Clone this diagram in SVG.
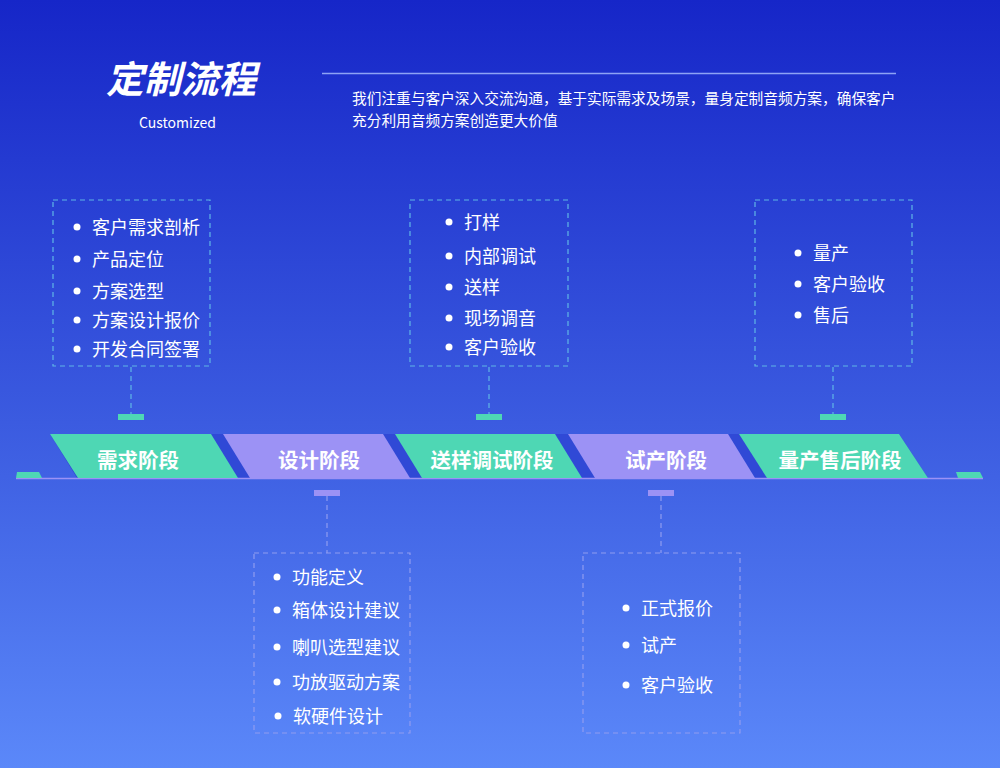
<svg xmlns="http://www.w3.org/2000/svg" width="1000" height="768" viewBox="0 0 1000 768">
<defs>
<linearGradient id="bg" x1="0" y1="0" x2="0" y2="1">
<stop offset="0" stop-color="#1626c8"/>
<stop offset="0.55" stop-color="#3b5be0"/>
<stop offset="1" stop-color="#5b88f9"/>
</linearGradient>
<style>
text{font-family:"Noto Sans CJK SC","Noto Sans",sans-serif;fill:#fff}
.item{font-size:18px}
.stage{font-size:20.5px;font-weight:bold;text-anchor:middle}
.boxT{fill:none;stroke:#5fb6e6;stroke-width:1.2;stroke-dasharray:5 4}
.boxB{fill:none;stroke:#8f9cf0;stroke-width:1.2;stroke-dasharray:5 4}
.lnT{stroke:#5fb6e6;stroke-width:1.2;stroke-dasharray:5 4}
.lnB{stroke:#8f9cf0;stroke-width:1.2;stroke-dasharray:5 4}
.teal{fill:#4ed7b4}
.lav{fill:#9c92f5}
.dot{fill:#fff}
</style>
</defs>
<rect width="1000" height="768" fill="url(#bg)"/>

<g id="header">
<text x="106" y="93" font-size="37.5" font-weight="bold" font-style="italic">定制流程</text>
<text x="139" y="128" font-size="14" font-family="Noto Sans,sans-serif" fill="#dfe6ff">Customized</text>
<line x1="322" y1="73.5" x2="896" y2="73.5" stroke="#8ea3f5" stroke-width="1.5"/>
<text x="352" y="104" font-size="14.7">我们注重与客户深入交流沟通，基于实际需求及场景，量身定制音频方案，确保客户</text>
<text x="352" y="126" font-size="14.7">充分利用音频方案创造更大价值</text>
</g>

<g id="connectors">
<line class="lnT" x1="131" y1="367" x2="131" y2="414"/>
<line class="lnT" x1="489" y1="367" x2="489" y2="414"/>
<line class="lnT" x1="833" y1="367" x2="833" y2="414"/>
<line class="lnB" x1="327" y1="496" x2="327" y2="553"/>
<line class="lnB" x1="661" y1="496" x2="661" y2="553"/>
<rect class="teal" x="118" y="414" width="26" height="6"/>
<rect class="teal" x="476" y="414" width="26" height="6"/>
<rect class="teal" x="820" y="414" width="26" height="6"/>
<rect class="lav" x="314" y="490" width="26" height="6"/>
<rect class="lav" x="648" y="490" width="26" height="6"/>
</g>

<g id="timeline">
<polygon points="50,434 899,434 928,478 77,478" fill="#3049d6"/>
<line x1="16" y1="478.5" x2="983" y2="478.5" stroke="#9c92f5" stroke-width="1.5"/>
<polygon class="teal" points="17,472 39,472 42,478 16,478"/>
<polygon class="teal" points="956,472 980,472 983,478 958,478"/>
</g>

<g id="stage1">
<polygon class="teal" points="50,434 211,434 238,478 78,478"/>
<text class="stage" x="138" y="468">需求阶段</text>
</g>
<g id="stage2">
<polygon class="lav" points="223,434 383,434 410,478 250,478"/>
<text class="stage" x="319" y="468">设计阶段</text>
</g>
<g id="stage3">
<polygon class="teal" points="395,434 555,434 582,478 422,478"/>
<text class="stage" x="492" y="468">送样调试阶段</text>
</g>
<g id="stage4">
<polygon class="lav" points="568,434 728,434 755,478 595,478"/>
<text class="stage" x="666" y="468">试产阶段</text>
</g>
<g id="stage5">
<polygon class="teal" points="739,434 899,434 928,478 767,478"/>
<text class="stage" x="840" y="468">量产售后阶段</text>
</g>

<g id="box1">
<rect class="boxT" x="53" y="200" width="157" height="166"/>
<circle class="dot" cx="77" cy="227" r="3.5"/><text class="item" x="92" y="233.5">客户需求剖析</text>
<circle class="dot" cx="77" cy="259" r="3.5"/><text class="item" x="92" y="265.5">产品定位</text>
<circle class="dot" cx="77" cy="291" r="3.5"/><text class="item" x="92" y="297.5">方案选型</text>
<circle class="dot" cx="77" cy="320" r="3.5"/><text class="item" x="92" y="326.5">方案设计报价</text>
<circle class="dot" cx="77" cy="349" r="3.5"/><text class="item" x="92" y="355.5">开发合同签署</text>
</g>

<g id="box2">
<rect class="boxT" x="410" y="200" width="158" height="166"/>
<circle class="dot" cx="449" cy="222" r="3.5"/><text class="item" x="464" y="228.5">打样</text>
<circle class="dot" cx="449" cy="256" r="3.5"/><text class="item" x="464" y="262.5">内部调试</text>
<circle class="dot" cx="449" cy="287" r="3.5"/><text class="item" x="464" y="293.5">送样</text>
<circle class="dot" cx="449" cy="318" r="3.5"/><text class="item" x="464" y="324.5">现场调音</text>
<circle class="dot" cx="449" cy="347" r="3.5"/><text class="item" x="464" y="353.5">客户验收</text>
</g>

<g id="box3">
<rect class="boxT" x="755" y="200" width="157" height="166"/>
<circle class="dot" cx="798" cy="253" r="3.5"/><text class="item" x="813" y="259.5">量产</text>
<circle class="dot" cx="798" cy="284" r="3.5"/><text class="item" x="813" y="290.5">客户验收</text>
<circle class="dot" cx="798" cy="315" r="3.5"/><text class="item" x="813" y="321.5">售后</text>
</g>

<g id="box4">
<rect class="boxB" x="254" y="553" width="156" height="180"/>
<circle class="dot" cx="277" cy="577" r="3.5"/><text class="item" x="292" y="583.5">功能定义</text>
<circle class="dot" cx="277" cy="610" r="3.5"/><text class="item" x="292" y="616.5">箱体设计建议</text>
<circle class="dot" cx="277" cy="647" r="3.5"/><text class="item" x="292" y="653.5">喇叭选型建议</text>
<circle class="dot" cx="277" cy="682" r="3.5"/><text class="item" x="292" y="688.5">功放驱动方案</text>
<circle class="dot" cx="278" cy="716" r="3.5"/><text class="item" x="293" y="722.5">软硬件设计</text>
</g>

<g id="box5">
<rect class="boxB" x="583" y="553" width="157" height="180"/>
<circle class="dot" cx="626" cy="608" r="3.5"/><text class="item" x="641" y="614.5">正式报价</text>
<circle class="dot" cx="626" cy="645" r="3.5"/><text class="item" x="641" y="651.5">试产</text>
<circle class="dot" cx="626" cy="685" r="3.5"/><text class="item" x="641" y="691.5">客户验收</text>
</g>
</svg>
